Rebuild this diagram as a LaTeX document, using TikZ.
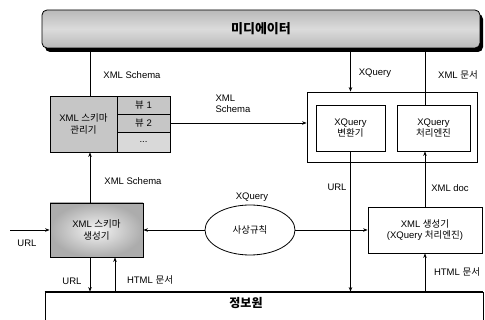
\documentclass[tikz,border=0pt]{standalone}
\usepackage{fontspec}
\setmainfont{Liberation Sans}
\newfontfamily\krfont{Noto Sans CJK KR}
\usetikzlibrary{shapes.geometric,shadows,arrows.meta,calc}

\tikzset{
  box/.style={draw, line width=0.8pt, inner sep=0pt, align=center},
  cell/.style={box, fill=gray!45},
  lbl/.style={inner sep=0pt, align=center},
}

\begin{document}
\begin{tikzpicture}[x=1pt,y=-1pt,>={Stealth[length=4.5pt,width=3.5pt]},
    font=\fontsize{9.5}{11.5}\selectfont, line width=0.7pt]
    \useasboundingbox (0,0) rectangle (485,320);
    \clip (0,0) rectangle (485,320);

    % mediator bar
    \node[box, rounded corners=5pt, minimum width=438pt, minimum height=38pt,
        top color=gray!55, bottom color=gray!55, middle color=gray!28,
        drop shadow={shadow xshift=3pt, shadow yshift=-4pt, fill=black, opacity=1},
        font=\krfont\bfseries\fontsize{13}{15}\selectfont] (med) at (261,29) {미디에이터};

    % schema manager with its views
    \node[cell, minimum width=67pt, minimum height=56pt] (mgr) at (83.5,124) {XML {\krfont 스키마}\\{\krfont 관리기}};
    \node[cell, minimum width=53pt, minimum height=18pt] (view1) at (143.5,105) {{\krfont 뷰} 1};
    \node[cell, minimum width=53pt, minimum height=18pt] (view2) at (143.5,123) {{\krfont 뷰} 2};
    \node[cell, fill=gray!30, minimum width=53pt, minimum height=20pt] (view3) at (143.5,142) {...};

    % XQuery part
    \node[box, minimum width=170pt, minimum height=70pt] (frame) at (392,127) {};
    \node[box, minimum width=69pt, minimum height=46pt] (conv) at (350.5,128) {XQuery\\{\krfont 변환기}};
    \node[box, minimum width=73pt, minimum height=46pt] (engine) at (433.5,128) {XQuery\\{\krfont 처리엔진}};

    % generators and mapping rules
    \node[box, inner color=gray!8, outer color=gray!65, minimum width=93pt, minimum height=54pt] (gen) at (96.5,230) {XML {\krfont 스키마}\\{\krfont 생성기}};
    \node[ellipse, draw, line width=0.8pt, inner sep=0pt, minimum width=90pt, minimum height=50pt] (rule) at (250,230) {{\krfont 사상규칙}};
    \node[box, minimum width=114pt, minimum height=46pt] (xgen) at (425,230) {XML {\krfont 생성기}\\(XQuery {\krfont 처리엔진})};

    % information source
    \node[draw, line width=0.8pt, minimum width=438pt, minimum height=40pt] (src) at (264,312) {};
    \draw[line width=1.3pt] (src.north west) -- (src.north east);
    \node[font=\krfont\bfseries\fontsize{12}{14}\selectfont] (srctxt) at (246,303) {정보원};

    % lanes for the vertical lines on the left
    \coordinate (laneA) at (90,0);
    \coordinate (laneB) at (115,0);
    \coordinate (urlin) at (10,230);

    % connections
    \draw (mgr.north -| laneA) -- (med.south -| laneA);
    \draw[->] (med.south -| conv) -- (frame.north -| conv);
    \draw (engine.north -| xgen) -- (med.south -| xgen);
    \draw[->] (view2.east) -- (frame.west |- view2);
    \draw[->] (gen.north -| laneA) -- (mgr.south -| laneA);
    \draw[->] (urlin) -- (gen.west);
    \draw[->] (rule.west) -- (gen.east);
    \draw[->] (rule.east) -- (xgen.west);
    \draw[->] (gen.south -| laneA) -- (src.north -| laneA);
    \draw[->] (src.north -| laneB) -- (gen.south -| laneB);
    \draw[->] (conv.south) -- (src.north -| conv);
    \draw[->] (xgen.north) -- (engine.south -| xgen);
    \draw[->] (src.north -| xgen) -- (xgen.south);

    % labels
    \node[lbl] (lschema1) at (132,75) {XML Schema};
    \node[lbl] (lquery1) at (375,73) {XQuery};
    \node[lbl] (ldoc1) at (458,75) {XML {\krfont 문서}};
    \node[lbl, align=left] (lschema2) at (233,104) {XML\\Schema};
    \node[lbl] (lschema3) at (133,181) {XML Schema};
    \node[lbl] (lquery2) at (252,197) {XQuery};
    \node[lbl] (lurl1) at (337,187) {URL};
    \node[lbl] (ldoc2) at (450,188) {XML doc};
    \node[lbl] (lurl2) at (27,243) {URL};
    \node[lbl] (lurl3) at (72,281) {URL};
    \node[lbl] (lhtml1) at (150,280) {HTML {\krfont 문서}};
    \node[lbl] (lhtml2) at (457,272) {HTML {\krfont 문서}};
\end{tikzpicture}
\end{document}
